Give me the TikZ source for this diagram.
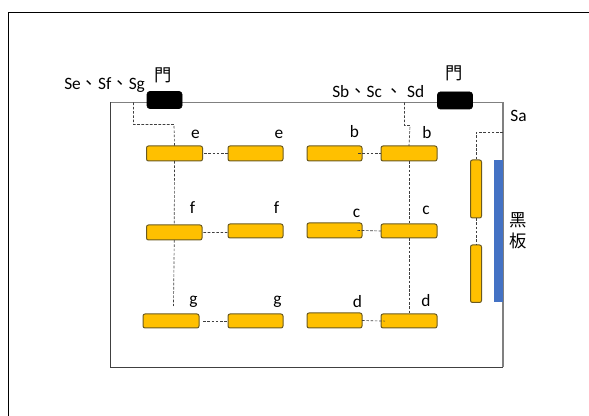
\documentclass[tikz,border=0pt]{standalone}
\usepackage{fontspec}
\setmainfont{Carlito}
\newfontfamily\cjk{Noto Sans CJK TC}
\definecolor{barfill}{HTML}{FFC000}
\definecolor{barline}{HTML}{6B5A20}
\definecolor{boardfill}{HTML}{4472C4}
\tikzset{
  wh/.style 2 args={minimum width=#1*0.75pt,minimum height=#2*0.75pt},
  bar/.style={draw=barline,line width=0.75pt,fill=barfill,rounded corners=1.5pt,inner sep=0pt,outer sep=0pt},
  doorbox/.style={draw=black,fill=black,rounded corners=2pt,inner sep=0pt,outer sep=0pt,wh={35}{17}},
  board/.style={fill=boardfill,inner sep=0pt,outer sep=0pt,wh={9}{142.5}},
  wire/.style={draw=black!75,line width=0.5pt,dash pattern=on 2pt off 1.2pt},
  lab/.style={inner sep=0pt,font=\fontsize{13}{15}\selectfont,text=black},
  cjklab/.style={inner sep=0pt,font=\cjk\fontsize{13}{15}\selectfont,text=black},
}
\begin{document}
\begin{tikzpicture}[x=0.75pt,y=-0.75pt]
\useasboundingbox (0,0) rectangle (589,416);
\draw[black,line width=0.8pt] (8.5,416) -- (8.5,12.5) -- (589,12.5);
\draw[draw=black!75,line width=0.75pt] (110.5,102.5) -- (110.5,367.5) -- (503,367.5);
\draw[draw=black!50,line width=0.9pt] (110.5,102.5) -- (503,102.5) -- (503,367.5);
% coordinates on walls
\coordinate (wallL) at (133.5,102.5);
\coordinate (wallR) at (404.5,102.5);
\coordinate (wallS) at (503,132.5);
\coordinate (gEnd) at (173.5,306);
\node[bar,wh={56}{15}] (e1) at (174.5,153.5) {};
\node[bar,wh={55}{15}] (e2) at (255.5,153.5) {};
\node[bar,wh={55.5}{15}] (f1) at (174.25,232.5) {};
\node[bar,wh={55}{14}] (f2) at (255.5,231) {};
\node[bar,wh={56}{14}] (g1) at (171,321) {};
\node[bar,wh={55}{14}] (g2) at (255.5,321) {};
\node[bar,wh={55}{15}] (b1) at (334.5,153.5) {};
\node[bar,wh={56}{15}] (b2) at (409,153.5) {};
\node[bar,wh={55}{15}] (c1) at (334.5,230.5) {};
\node[bar,wh={56}{14}] (c2) at (409,231) {};
\node[bar,wh={55}{15}] (d1) at (334.5,320.5) {};
\node[bar,wh={56}{14}] (d2) at (409,321) {};
\node[bar,wh={11}{58}] (v1) at (476,189) {};
\node[bar,wh={11}{57.5}] (v2) at (476,273.75) {};
\node[board] (bb) at (498.5,231.25) {};
\node[doorbox] (door1) at (164.5,100) {};
\node[doorbox] (door2) at (455,100.5) {};
% wires
\draw[wire] (wallL) |- (174,124.5) -- (e1.north);
\draw[wire] (e1.south) -- (f1.north);
\draw[wire] (f1.south) -- (gEnd);
\draw[wire,shorten <=1.1pt] (e1.east) -- (e2.west);
\draw[wire,shorten <=1.1pt] (f1.east) -- ([yshift=-1.1pt]f2.west);
\draw[wire,shorten <=3pt] (g1.east) -- (g2.west);
\draw[wire,shorten <=-3pt] (b1.east) -- (b2.west);
\draw[wire,shorten <=-3.5pt] (c1.east) -- (c2.west);
\draw[wire,shorten >=-3pt] (d1.east) -- (d2.west);
\draw[wire] (wallR) |- (410,125.5) -- (b2.north);
\draw[wire] (b2.south) -- (c2.north);
\draw[wire] (c2.south) -- (d2.north);
\draw[wire] (wallS) -| (v1.north);
\draw[wire] (v1.south) -- (v2.north);
% labels
\node[lab,anchor=base west] (t1) at (64,90) {Se{\cjk、}Sf{\cjk、}Sg};
\node[cjklab] (t2) at (163,75) {門};
\node[lab,anchor=base west] (t3) at (332,98) {Sb{\cjk、}Sc {\cjk、} Sd};
\node[cjklab] (t4) at (454.5,73) {門};
\node[lab,anchor=base] (t5) at (518.5,122) {Sa};
\node[cjklab] (t6) at (518,220.5) {黑};
\node[cjklab] (t7) at (518,241) {板};
\node[lab,anchor=base] (le1) at (195.5,139) {e};
\node[lab,anchor=base] (le2) at (279,139) {e};
\node[lab,anchor=base] (lf1) at (192.5,214) {f};
\node[lab,anchor=base] (lf2) at (276.5,214) {f};
\node[lab,anchor=base] (lg1) at (193.5,305) {g};
\node[lab,anchor=base] (lg2) at (277.5,305) {g};
\node[lab,anchor=base] (lb1) at (354.5,138) {b};
\node[lab,anchor=base] (lb2) at (427,139) {b};
\node[lab,anchor=base] (lc1) at (356.5,218) {c};
\node[lab,anchor=base] (lc2) at (426,215) {c};
\node[lab,anchor=base] (ld1) at (357.5,308) {d};
\node[lab,anchor=base] (ld2) at (426,307) {d};
\end{tikzpicture}
\end{document}
